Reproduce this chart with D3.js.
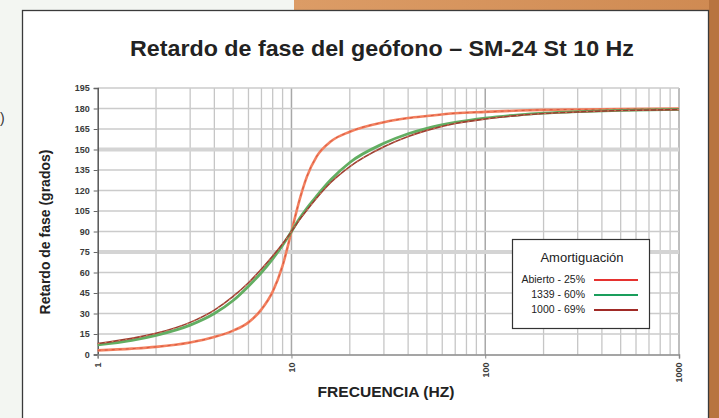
<!DOCTYPE html>
<html>
<head>
<meta charset="utf-8">
<script src="https://cdn.jsdelivr.net/npm/d3@7"></script>
<style>
  html, body { margin: 0; padding: 0; background: #f3f6f2; }
  svg { display: block; }
</style>
</head>
<body>
<div id="chart"></div>
<script>
// values
var freqs = [1, 1.5, 2, 3, 4, 5, 6, 7, 8, 9, 10, 11, 12, 13.5, 16, 20, 30, 40, 50, 70, 100, 150, 200, 300, 500, 1000];
var abierto25 = [3, 4.3, 5.6, 8.8, 12.8, 17.5, 23.5, 33, 46, 65, 90, 113, 130, 145, 156, 163, 170, 173, 174.5, 176.5, 177.5, 178.5, 179, 179.3, 179.6, 180];
var r1339_60 = [7, 10.3, 14, 21.5, 30, 39.5, 50, 60, 70, 80, 90, 99.5, 107, 116, 128, 140.5, 154.5, 161.5, 165.5, 169.8, 173, 175.4, 176.6, 177.7, 178.6, 179.3];
var r1000_69 = [8, 11.8, 15.5, 23.5, 32.5, 42.5, 52.5, 62.5, 72, 81, 90, 98.5, 105.5, 114.5, 126, 137.5, 152, 159.5, 164, 169, 172.3, 175, 176.3, 177.5, 178.5, 179.2];

var yTicks = d3.range(0, 196, 15);
var xTicks = [1, 10, 100, 1000];
var seriesNames = ["Abierto - 25%", "1339 - 60%", "1000 - 69%"];
var legendColors = ["#e5322f", "#1a9e5c", "#a02a26"];

var W = 719, H = 418;
var svg = d3.select("#chart").append("svg").attr("width", W).attr("height", H);

// page background bits
var grad = svg.append("defs").append("linearGradient").attr("id", "org").attr("x1", 0).attr("x2", 1);
grad.append("stop").attr("offset", 0).attr("stop-color", "#dc9c66");
grad.append("stop").attr("offset", 1).attr("stop-color", "#cf8a52");
svg.append("rect").attr("x", 294).attr("y", 0).attr("width", W - 294).attr("height", 12).attr("fill", "url(#org)");
svg.append("rect").attr("x", 709).attr("y", 0).attr("width", 10).attr("height", H).attr("fill", "#b8743f");
svg.append("text").attr("x", 0).attr("y", 123).attr("font-family", "Liberation Sans, Arial, sans-serif")
    .attr("font-size", 14).attr("fill", "#333").text(")");

// the framed box
svg.append("rect").attr("x", 22.5).attr("y", 10.5).attr("width", 686).attr("height", 420)
    .attr("fill", "#ffffff").attr("stroke", "#3a3a3a").attr("stroke-width", 1.3);

var x = d3.scaleLog().domain([1, 1000]).range([97.7, 679]);
var y = d3.scaleLinear().domain([0, 195]).range([354.5, 88]);

// vertical grid (log minors)
var vgrid = [];
[1, 10, 100].forEach(function (d) {
    for (var k = 2; k <= 9; k++) vgrid.push(d * k);
});
svg.append("g").selectAll("line").data(vgrid).enter().append("line")
    .attr("x1", d => x(d)).attr("x2", d => x(d))
    .attr("y1", y(195)).attr("y2", y(0))
    .attr("stroke", "#c6c6c6").attr("stroke-width", 1.3);
svg.append("g").selectAll("line").data([10, 100, 1000]).enter().append("line")
    .attr("x1", d => x(d)).attr("x2", d => x(d))
    .attr("y1", y(195)).attr("y2", y(0))
    .attr("stroke", "#a8a8a8").attr("stroke-width", 1.5);

// horizontal grid
svg.append("g").selectAll("line").data(yTicks.filter(d => d > 0)).enter().append("line")
    .attr("x1", x(1)).attr("x2", x(1000))
    .attr("y1", d => y(d)).attr("y2", d => y(d))
    .attr("stroke", d => (d == 150 || d == 75) ? "#d4d4d4" : "#cbcbcb")
    .attr("stroke-width", d => (d == 150 || d == 75) ? 4 : 1.6);

// axes
var yAxis = d3.axisLeft(y).tickValues(yTicks).tickSize(4).tickPadding(4);
var gY = svg.append("g").attr("transform", "translate(" + x(1) + ",0)").call(yAxis);
gY.select(".domain").attr("stroke", "#555").attr("stroke-width", 1.5);
gY.selectAll(".tick line").attr("stroke", "#666");
gY.selectAll("text").attr("font-family", "Liberation Sans, Arial, sans-serif")
    .attr("font-size", 9).attr("font-weight", "bold").attr("fill", "#3a3a3a");

var xAxis = d3.axisBottom(x).tickValues(xTicks).tickFormat(d3.format("d")).tickSize(4).tickPadding(4);
var gX = svg.append("g").attr("transform", "translate(0," + y(0) + ")").call(xAxis);
gX.select(".domain").attr("stroke", "#888").attr("stroke-width", 1.5);
gX.selectAll(".tick line").attr("stroke", "#888");
gX.selectAll("text")
    .attr("font-family", "Liberation Sans, Arial, sans-serif")
    .attr("font-size", 9).attr("font-weight", "bold").attr("fill", "#3a3a3a")
    .attr("transform", "rotate(-90)")
    .attr("text-anchor", "end")
    .attr("x", -8).attr("y", 0).attr("dy", "0.32em");

// curves
var line = d3.line().x(d => x(d[0])).y(d => y(d[1])).curve(d3.curveMonotoneX);
function pts(vals) { return freqs.map(function (f, i) { return [f, vals[i]]; }); }

var curves = svg.append("g").attr("fill", "none");
curves.append("path").attr("d", line(pts(abierto25))).attr("stroke", "#f2805f").attr("stroke-width", 2.6);
curves.append("path").attr("d", line(pts(abierto25))).attr("stroke", "#d9583f").attr("stroke-width", 1)
    .attr("stroke-dasharray", "3,4");
curves.append("path").attr("d", line(pts(r1339_60))).attr("stroke", "#62ae62").attr("stroke-width", 2.8);
curves.append("path").attr("d", line(pts(r1000_69))).attr("stroke", "#9b3e31").attr("stroke-width", 1.6);
curves.append("path").attr("d", line(pts(r1000_69))).attr("stroke", "#d97a5e").attr("stroke-width", 1)
    .attr("stroke-dasharray", "2,5");

// titles
var title = svg.append("text").attr("x", 382).attr("y", 56).attr("text-anchor", "middle")
    .attr("font-family", "Liberation Sans, Arial, sans-serif").attr("font-size", 22)
    .attr("font-weight", "bold").attr("fill", "#222")
    .text("Retardo de fase del geófono – SM-24 St 10 Hz");
if (Math.abs(title.node().getComputedTextLength() - 504) > 6) {
    title.attr("textLength", 504).attr("lengthAdjust", "spacingAndGlyphs");
}

svg.append("text").attr("transform", "translate(50,232) rotate(-90)").attr("text-anchor", "middle")
    .attr("font-family", "Liberation Sans, Arial, sans-serif").attr("font-size", 14)
    .attr("font-weight", "bold").attr("fill", "#222")
    .text("Retardo de fase (grados)");

var xl = svg.append("text").attr("x", 386).attr("y", 397).attr("text-anchor", "middle")
    .attr("font-family", "Liberation Sans, Arial, sans-serif").attr("font-size", 15)
    .attr("font-weight", "bold").attr("fill", "#222")
    .text("FRECUENCIA (HZ)");
xl.attr("textLength", 137).attr("lengthAdjust", "spacingAndGlyphs");

// legend
var lg = svg.append("g").attr("transform", "translate(512,239)");
lg.append("rect").attr("x", 0.5).attr("y", 0.5).attr("width", 137).attr("height", 89)
    .attr("fill", "#fff").attr("stroke", "#333").attr("stroke-width", 1.2);
lg.append("text").attr("x", 70).attr("y", 23).attr("text-anchor", "middle")
    .attr("font-family", "Liberation Sans, Arial, sans-serif").attr("font-size", 13)
    .attr("fill", "#222").text("Amortiguación");
var items = lg.selectAll(".item").data(seriesNames).enter().append("g")
    .attr("transform", (d, i) => "translate(0," + (44 + i * 15) + ")");
items.append("text").attr("x", 73).attr("y", 0).attr("text-anchor", "end")
    .attr("font-family", "Liberation Sans, Arial, sans-serif").attr("font-size", 10.5)
    .attr("fill", "#222").text(d => d);
items.append("line").attr("x1", 82).attr("x2", 126).attr("y1", -3).attr("y2", -3)
    .attr("stroke", (d, i) => legendColors[i]).attr("stroke-width", 2);
</script>
</body>
</html>
